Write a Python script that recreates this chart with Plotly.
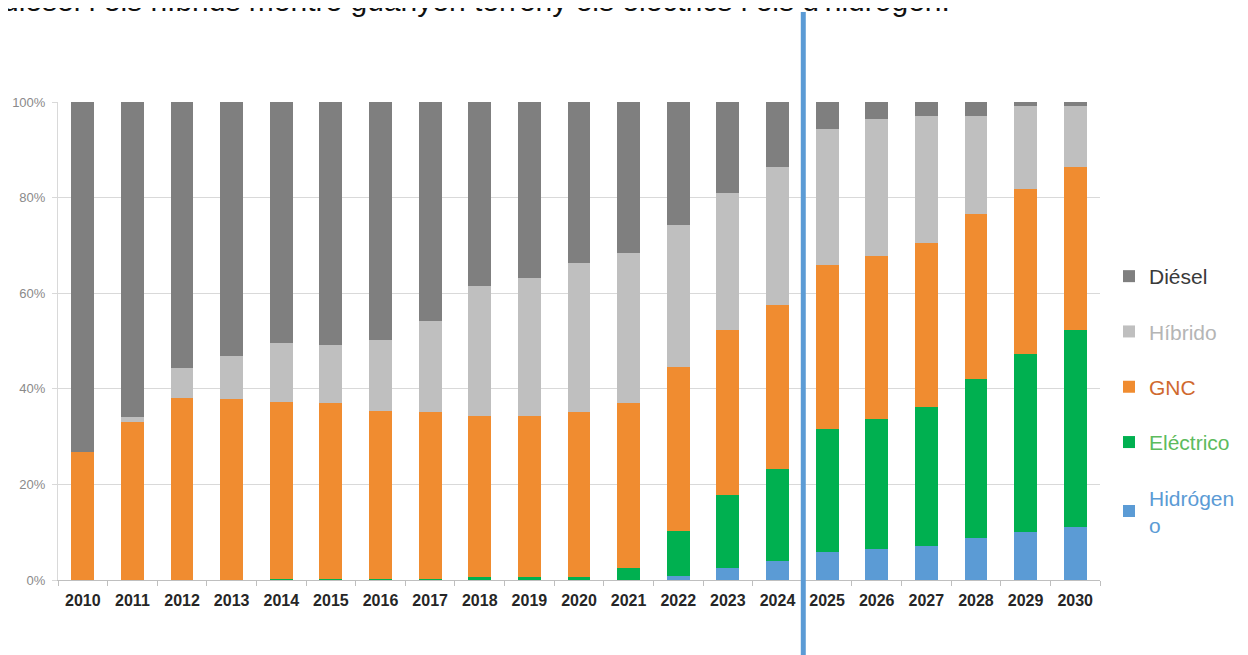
import plotly.graph_objects as go

years = [str(y) for y in range(2010, 2031)]

hidrogeno = [0, 0, 0, 0, 0, 0, 0, 0, 0, 0, 0, 0, 0.8, 2.5, 3.9, 5.8, 6.5, 7.1, 8.7, 10.0, 11.1]
electrico = [0, 0, 0, 0, 0.2, 0.2, 0.3, 0.3, 0.6, 0.6, 0.6, 2.6, 9.5, 15.3, 19.3, 25.8, 27.1, 29.1, 33.3, 37.3, 41.1]
gnc = [26.8, 33.1, 38.0, 37.8, 37.1, 36.8, 35.1, 34.8, 33.7, 33.7, 34.5, 34.4, 34.3, 34.4, 34.3, 34.2, 34.2, 34.3, 34.5, 34.4, 34.3]
hibrido = [0, 1.1, 6.3, 9.1, 12.2, 12.2, 14.9, 19.0, 27.2, 28.8, 31.3, 31.4, 29.7, 28.8, 28.8, 28.6, 28.6, 26.5, 20.5, 17.5, 12.7]
diesel = [73.2, 65.8, 55.7, 53.1, 50.5, 50.8, 49.7, 45.9, 38.5, 36.9, 33.6, 31.6, 25.7, 19.0, 13.7, 5.6, 3.6, 3.0, 3.0, 0.8, 0.8]

y_ticks = [0, 20, 40, 60, 80, 100]
title_text = "dièsel i els híbrids mentre guanyen terreny els elèctrics i els d'hidrogen."

# (legend label, values, bar colour, legend text colour, legend rank)
series = [
    ("Hidrógen<br>o", hidrogeno, "#5B9BD5", "#5B9BD5", 5),
    ("Eléctrico", electrico, "#00B050", "#5DBB5D", 4),
    ("GNC", gnc, "#F08C30", "#D0692E", 3),
    ("Híbrido", hibrido, "#BFBFBF", "#B5B5B5", 2),
    ("Diésel", diesel, "#7F7F7F", "#3A3A3A", 1),
]

fig = go.Figure()
for i, (name, vals, color, tcolor, rank) in enumerate(series):
    fig.add_trace(go.Bar(
        x=years, y=vals,
        name=f"<span style='color:{tcolor}'>{name}</span>",
        marker=dict(color=color, line=dict(width=0)),
        legendgroup=f"g{i}",
        legendrank=rank,
    ))

# page has an 8px body margin; work in figure pixels = page pixels - 8
OFF = 8
W, H = 1248 - OFF, 655 - OFF
ml, mr, mt, mb = 58 - OFF, W - (1100 - OFF), 102 - OFF, H - (580 - OFF)
pw = W - ml - mr
ph = H - mt - mb

def px_to_paper_x(px):
    return (px - ml) / pw

def px_to_paper_y(py):
    return (H - mb - py) / ph

# separator line between 2024 and 2025
n = len(years)
sep_pos = years.index("2024") + 0.52
sep_x = (sep_pos + 0.5) / n

fig.add_shape(type="line", xref="paper", yref="paper",
              x0=sep_x, x1=sep_x, y0=px_to_paper_y(12 - OFF), y1=px_to_paper_y(H + 5),
              line=dict(color="#5B9BD5", width=5), layer="above")

fig.add_annotation(text=title_text, xref="paper", yref="paper",
                   x=px_to_paper_x(-8), y=px_to_paper_y(-8), xanchor="left", yanchor="middle",
                   showarrow=False, font=dict(family="Liberation Sans, Arial", size=30, color="#111111"))

fig.update_layout(
    width=W, height=H,
    margin=dict(l=ml, r=mr, t=mt, b=mb, autoexpand=False),
    barmode="stack",
    bargap=0.54,
    plot_bgcolor="white", paper_bgcolor="white",
    font=dict(family="Liberation Sans, Arial"),
    legend=dict(
        x=px_to_paper_x(1101), y=px_to_paper_y(248), xanchor="left", yanchor="top",
        traceorder="grouped", tracegroupgap=25,
        font=dict(size=21, color="#333333"),
        bgcolor="rgba(0,0,0,0)",
    ),
    xaxis=dict(
        type="category", tickson="boundaries", ticks="outside", ticklen=5,
        tickcolor="#BFBFBF", showline=True, linecolor="#BFBFBF", linewidth=1,
        showgrid=False, ticklabelstandoff=6,
        tickfont=dict(size=16, color="#262626", family="Liberation Sans, Arial"),
        tickprefix="<b>", ticksuffix="</b>",
        range=[-0.5, n - 0.5],
    ),
    yaxis=dict(
        range=[0, 100], tickvals=y_ticks, ticktext=[f"{v}%" for v in y_ticks],
        showgrid=True, gridcolor="#D9D9D9", gridwidth=1,
        showline=True, linecolor="#D9D9D9",
        ticks="outside", ticklen=5, tickcolor="#D9D9D9", ticklabelstandoff=4,
        tickfont=dict(size=13, color="#8A8A8A"),
        zeroline=False,
    ),
)

fig.write_html("out.html")
